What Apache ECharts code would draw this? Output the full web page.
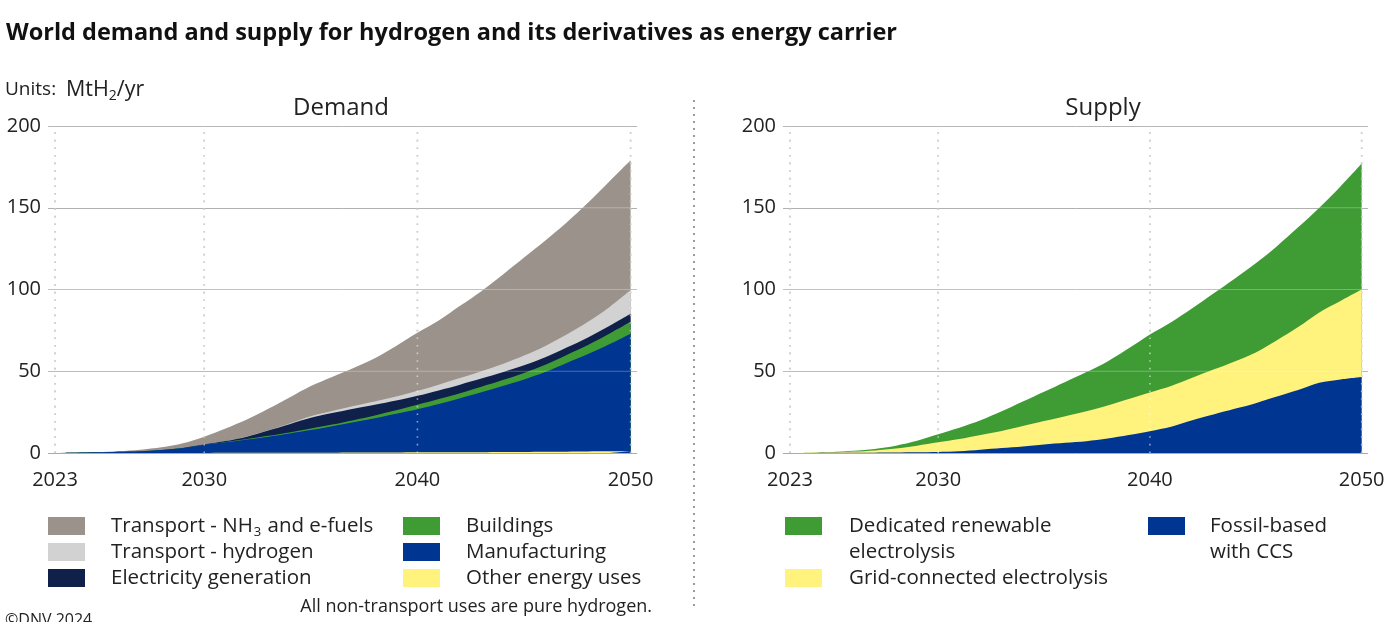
<!DOCTYPE html>
<html>
<head>
<meta charset="utf-8">
<script src="https://cdn.jsdelivr.net/npm/echarts@6/dist/echarts.min.js"></script>
<style>
html,body{margin:0;padding:0;background:#fff;}
#chart{width:1400px;height:622px;}
</style>
</head>
<body>
<div id="chart"></div>
<script>
const years = [2023,2024,2025,2026,2027,2028,2029,2030,2031,2032,2033,2034,2035,2036,2037,2038,2039,2040,2041,2042,2043,2044,2045,2046,2047,2048,2049,2050];
const xTickYears = [2023, 2030, 2040, 2050];
const yTicks = [0, 50, 100, 150, 200];

// Demand (MtH2/yr), bottom layer first
const demandOther = [0,0,0,0,0,0,0,0,0.1,0.1,0.1,0.2,0.2,0.2,0.3,0.3,0.3,0.4,0.4,0.5,0.5,0.6,0.6,0.7,0.8,0.9,1,1.1];
const demandManufacturing = [0,0.15,0.4,0.7,1.1,1.8,3,5,6.4,8.1,9.9,11.8,13.8,16.1,18.5,21,23.7,26.4,29.6,33,36.7,40.4,44.4,48.8,54.2,59.6,65.5,71.9];
const demandBuildings = [0,0,0,0,0,0,0,0.1,0.2,0.3,0.5,0.6,1,1.1,1.3,1.7,2.1,2.7,3,3.1,3.3,3.6,4,4.5,5,5.6,6.4,7.2];
const demandElectricity = [0,0,0,0,0,0,0.1,0.2,0.6,1.5,3.2,5,6.5,7,7,6.5,6,5.5,5.3,5.2,5,4.8,4.6,4.5,4.5,4.6,4.8,5];
const demandTransportH2 = [0,0,0,0,0,0,0,0,0,0.1,0.2,0.5,1,1.3,1.6,2,2.4,3,3.5,4,4.5,5,6,7,8,9.5,11.5,14.5];
const demandTransportNH3 = [0,0.15,0.2,0.4,0.9,1.7,2.9,4.7,7.7,10.4,13.1,15.9,18.5,20.8,23.3,26.5,31,35.5,39.2,44.2,49,54.6,59.9,64.5,68.5,72.8,76.8,79.3];

// Supply (MtH2/yr), bottom layer first
const supplyFossilCCS = [0,0,0.1,0.1,0.2,0.3,0.4,0.6,1,2,3,4,5.2,6.2,7.2,8.8,11,13.3,16,20,23.5,27,30.5,34.5,38.5,43,45,46.5];
const supplyGrid = [0,0.2,0.3,0.8,1.4,2.5,4.1,5.9,7.5,9,10.5,12.5,14.3,16.3,18.3,20.2,22,23.7,25,26,27.5,29,31,34.5,38.5,43,48,53.5];
const supplyRenewable = [0,0,0.2,0.4,0.9,1.7,3,5,7,9,12,15,18,21,24,27,31,35.5,39,42.5,46.5,50.5,54.5,57.5,61,64,70,77];

const C = {
  nh3: '#9b938b', h2: '#d2d2d2', elec: '#0f204b', build: '#3f9c35',
  manu: '#003591', other: '#fff27d'
};
const FONT = '"Open Sans", "Noto Sans", sans-serif';
const TXT = '#222';

// Layers bottom->top; each drawn as the cumulative total, topmost first so lower layers overlay.
const demandLayers = [
  ['Other energy uses', demandOther, C.other],
  ['Manufacturing', demandManufacturing, C.manu],
  ['Buildings', demandBuildings, C.build],
  ['Electricity generation', demandElectricity, C.elec],
  ['Transport - hydrogen', demandTransportH2, C.h2],
  ['Transport - NH3 and e-fuels', demandTransportNH3, C.nh3]
];
const supplyLayers = [
  ['Fossil-based with CCS', supplyFossilCCS, C.manu],
  ['Grid-connected electrolysis', supplyGrid, C.other],
  ['Dedicated renewable electrolysis', supplyRenewable, C.build]
];

function stackedSeries(layers, idx){
  const cum = years.map(()=>0);
  const out = [];
  layers.forEach(([name, arr, color])=>{
    for (let i=0;i<years.length;i++) cum[i] += arr[i];
    out.push({
      name, type:'line', xAxisIndex: idx, yAxisIndex: idx,
      data: years.map((y,i)=>[y, +cum[i].toFixed(3)]),
      smooth: 0.3, symbol:'none', showSymbol:false,
      lineStyle:{width:0}, areaStyle:{color, opacity:1, origin:'start'}, itemStyle:{color},
      emphasis:{disabled:true}, silent:true, z:2
    });
  });
  return out.reverse();
}

function vLines(idx, stroke, z){
  return {
    type:'custom', xAxisIndex: idx, yAxisIndex: idx, silent:true, z,
    data: xTickYears.map(y=>[y, 0]),
    encode:{x:0, y:1},
    renderItem:(params, api)=>{
      const p1 = api.coord([api.value(0), yTicks[0]]);
      const p2 = api.coord([api.value(0), yTicks[yTicks.length-1]]);
      return {type:'line', shape:{x1:p1[0], y1:p1[1], x2:p2[0], y2:p2[1]},
        style:{stroke, lineWidth:1.6, lineDash:[1.6,6]}};
    }
  };
}
function hLines(idx, stroke, z){
  return {
    type:'custom', xAxisIndex: idx, yAxisIndex: idx, silent:true, z,
    data: yTicks.slice(1).map(v=>[years[0], v]),
    encode:{x:0, y:1},
    renderItem:(params, api)=>{
      const cs = params.coordSys;
      const p = api.coord([api.value(0), api.value(1)]);
      return {type:'line', shape:{x1:cs.x, y1:p[1], x2:cs.x+cs.width, y2:p[1]},
        style:{stroke, lineWidth:1}};
    }
  };
}

const axisX = (gi)=>({
  type:'value', gridIndex: gi, min: 2022.67, max: 2050.3,
  axisLine:{show:false}, axisTick:{show:false}, splitLine:{show:false},
  axisLabel:{customValues: xTickYears, fontSize:20, color:TXT, fontFamily:FONT, margin:17,
    formatter: v=>String(v)}
});
const axisY = (gi)=>({
  type:'value', gridIndex: gi, min: 0, max: 200, interval: 50,
  axisLine:{show:false}, axisTick:{show:false},
  splitLine:{show:true, lineStyle:{color:'#ababab', width:1}},
  axisLabel:{fontSize:20, color:TXT, fontFamily:FONT, margin:7}
});

const legendText = {fontSize:20.5, color:TXT, fontFamily:FONT, lineHeight:26,
  rich:{s:{fontSize:13, fontFamily:FONT, color:TXT, verticalAlign:'bottom', lineHeight:18, padding:[0,1,0,1]}}};
function legendFmt(name){
  if (name === 'Transport - NH3 and e-fuels') return 'Transport - NH{s|3} and e-fuels';
  if (name === 'Dedicated renewable electrolysis') return 'Dedicated renewable\nelectrolysis';
  if (name === 'Fossil-based with CCS') return 'Fossil-based\nwith CCS';
  return name;
}
function legend(left, top, names, padLeft, twoLine){
  return {
    left, top, orient:'vertical', itemWidth:37, itemHeight:18, itemGap:0, padding:0,
    icon:'rect', selectedMode:false, formatter: legendFmt,
    textStyle: Object.assign({}, legendText, {padding:[0,0,0,padLeft]}),
    data: names.map(n => (twoLine && twoLine.indexOf(n) >= 0)
      ? {name:n, textStyle:{padding:[26,0,0,padLeft]}} : {name:n})
  };
}

const option = {
  backgroundColor:'#fff',
  animation:false,
  title:{text:'World demand and supply for hydrogen and its derivatives as energy carrier',
    left:6, top:21, padding:0, textStyle:{fontSize:23.5, fontWeight:'bold', color:'#111', fontFamily:FONT}},
  grid:[
    {left:48, top:126, width:589, height:327},
    {left:783, top:126, width:585, height:327}
  ],
  xAxis:[axisX(0), axisX(1)],
  yAxis:[axisY(0), axisY(1)],
  legend:[
    legend(48, 513, ['Transport - NH3 and e-fuels','Transport - hydrogen','Electricity generation'], 21),
    legend(403, 513, ['Buildings','Manufacturing','Other energy uses'], 21),
    legend(785, 487, ['Dedicated renewable electrolysis','Grid-connected electrolysis'], 22, ['Dedicated renewable electrolysis']),
    legend(1148, 487, ['Fossil-based with CCS'], 20, ['Fossil-based with CCS'])
  ],
  series:[].concat(
    [vLines(0, '#9a9a9a', 1), vLines(1, '#9a9a9a', 1)],
    stackedSeries(demandLayers, 0),
    stackedSeries(supplyLayers, 1),
    [vLines(0, 'rgba(255,255,255,0.55)', 5), vLines(1, 'rgba(255,255,255,0.55)', 5),
     hLines(0, 'rgba(255,255,255,0.28)', 5), hLines(1, 'rgba(255,255,255,0.28)', 5)]
  ),
  graphic:[
    {type:'text', left:5, top:79, style:{
      text:'{a|Units:  }{b|MtH}{s|2}{b|/yr}', fill:TXT,
      rich:{a:{fontSize:19, fontFamily:FONT, fill:TXT, lineHeight:26},
            b:{fontSize:21.5, fontFamily:FONT, fill:TXT, lineHeight:26},
            s:{fontSize:14, fontFamily:FONT, fill:TXT, lineHeight:16, verticalAlign:'bottom'}}}},
    {type:'text', x:341, y:108, style:{text:'Demand', fontSize:24, fontFamily:FONT, fill:TXT, align:'center', verticalAlign:'middle'}},
    {type:'text', x:1103, y:108, style:{text:'Supply', fontSize:24, fontFamily:FONT, fill:TXT, align:'center', verticalAlign:'middle'}},
    {type:'text', x:652, y:607, style:{text:'All non-transport uses are pure hydrogen.', fontSize:18, fontFamily:FONT, fill:TXT, align:'right', verticalAlign:'middle'}},
    {type:'text', x:5, y:612, style:{text:'©DNV 2024', fontSize:16, fontFamily:FONT, fill:TXT, align:'left', verticalAlign:'top'}},
    {type:'line', shape:{x1:694, y1:100, x2:694, y2:606}, style:{stroke:'#9a9a9a', lineWidth:2, lineDash:[2,5]}}
  ]
};

const chart = echarts.init(document.getElementById('chart'), null, {renderer:'canvas'});
chart.setOption(option);
</script>
</body>
</html>
